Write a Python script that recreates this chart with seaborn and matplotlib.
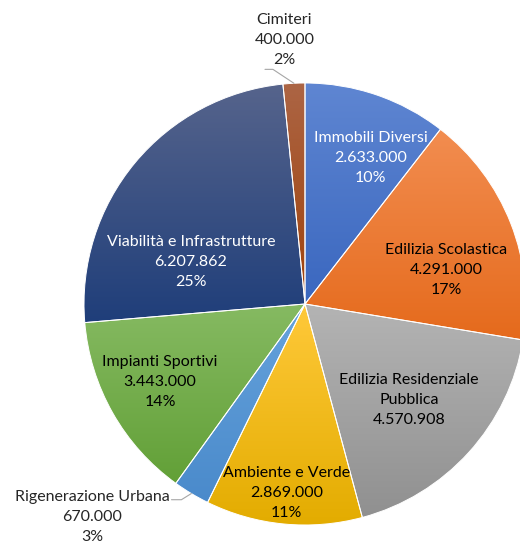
import numpy as np
import seaborn as sns
import matplotlib.pyplot as plt
from matplotlib.colors import to_rgb

categorie = ["Immobili Diversi", "Edilizia Scolastica", "Edilizia Residenziale\nPubblica",
             "Ambiente e Verde", "Rigenerazione Urbana", "Impianti Sportivi",
             "Viabilità e Infrastrutture", "Cimiteri"]
importi = [2633000, 4291000, 4570908, 2869000, 670000, 3443000, 6207862, 400000]
importi_txt = ["2.633.000", "4.291.000", "4.570.908", "2.869.000",
               "670.000", "3.443.000", "6.207.862", "400.000"]
percentuali = ["10%", "17%", None, "11%", "3%", "14%", "25%", "2%"]

# gradient colours (top, bottom) per slice
col_top = ["#5F86D2", "#F28D50", "#B4B4B4", "#FFC93A", "#66A3DC", "#86BA62", "#56648C", "#AC6545"]
col_bot = ["#3A67BF", "#E56A1C", "#909090", "#E3AC00", "#4A8ACB", "#62A037", "#1F3E7A", "#A0420A"]
txt_col = ["white", "black", "black", "black", "#262626", "black", "white", "#262626"]
# label placement: radius, angle shift (deg) from slice middle
lab_r = [0.725, 0.656, 0.64, 0.86, 1.363, 0.745, 0.55, 1.2]
lab_shift = [-5.4, -7.8, -0.5, -0.1, -14.0, -1.2, 19.5, 1.6]

sns.set_theme(style="white")
plt.rcParams['font.family'] = ['Lato', 'DejaVu Sans']

fig = plt.figure(figsize=(5.2, 5.43), dpi=100)
ax = fig.add_axes([(305 - 221) / 520, (543 - 304 - 221) / 543, 442 / 520, 442 / 543])

wedges, _ = ax.pie(importi, startangle=90, counterclock=False, radius=1,
                   wedgeprops=dict(edgecolor="white", linewidth=0.7))
ax.set_xlim(-1, 1)
ax.set_ylim(-1, 1)
ax.set_aspect("equal")
ax.axis("off")

for i, w in enumerate(wedges):
    bb = w.get_path().get_extents()
    t, b = np.array(to_rgb(col_top[i])), np.array(to_rgb(col_bot[i]))
    s = np.linspace(0, 1, 256)[:, None]
    grad = (t * (1 - s) + b * s)[:, None, :]
    im = ax.imshow(grad, extent=[bb.x0, bb.x1, bb.y0, bb.y1], origin="upper",
                   aspect="auto", zorder=2, interpolation="bilinear")
    im.set_clip_path(w)
    w.set_facecolor("none")
    w.set_zorder(3)
    w.set_clip_on(False)

    mid = np.deg2rad((w.theta1 + w.theta2) / 2)
    ang = mid + np.deg2rad(lab_shift[i])
    x, y = lab_r[i] * np.cos(ang), lab_r[i] * np.sin(ang)
    testo = categorie[i] + "\n" + importi_txt[i]
    if percentuali[i]:
        testo += "\n" + percentuali[i]
    ax.text(x, y, testo, ha="center", va="center", fontsize=11.5, color=txt_col[i],
            linespacing=1.55, zorder=5, clip_on=False)

# leader lines for the small outer labels
for i, (dx, dy, dh) in {7: (-0.095, 0.063, -0.036), 4: (-0.045, -0.028, -0.045)}.items():
    w = wedges[i]
    mid = np.deg2rad((w.theta1 + w.theta2) / 2)
    ex, ey = np.cos(mid), np.sin(mid)
    ax.plot([ex, ex + dx, ex + dx + dh], [ey, ey + dy, ey + dy], color="#A6A6A6",
            lw=0.8, zorder=4, clip_on=False)

fig.savefig("out.png", dpi=100)
